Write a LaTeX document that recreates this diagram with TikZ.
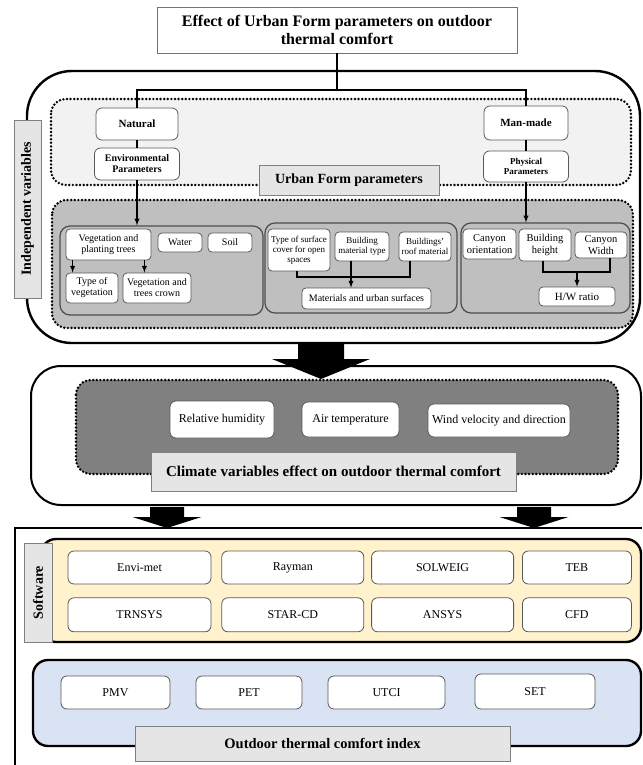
\documentclass[tikz,border=0pt]{standalone}
\usepackage{fontspec}
\setmainfont{Liberation Serif}
\usetikzlibrary{positioning}
\definecolor{swyellow}{HTML}{FFF2CC}
\definecolor{idxblue}{HTML}{DAE3F3}

\begin{document}
\begin{tikzpicture}[x=1pt, y=-1pt, >=latex,
                    wbox/.style={draw=black!65, fill=white, rounded corners=4pt, align=center, inner sep=1pt, line width=0.8pt},
                    swbox/.style={wbox, rounded corners=6pt, font=\fontsize{12}{14}\selectfont},
                    tagbox/.style={draw=black!50, fill=black!10, inner sep=1pt, font=\bfseries\fontsize{14}{16}\selectfont},
                    dotbox/.style={line width=2.7pt, dash pattern=on 0pt off 3.6pt, line cap=round, rounded corners=15pt},
                    panel/.style={draw=black, line width=2.4pt, rounded corners=15pt},
                    grpbox/.style={draw=black!70, fill=black!25, line width=1.2pt, rounded corners=10pt},
                    link/.style={line width=1.3pt}]
    \useasboundingbox (0,0) rectangle (642,765);
    % independent variables panel
    \draw[panel, rounded corners=45pt, fill=white] (27,71) rectangle (640,343);
    \draw[dotbox, fill=black!5] (51,99) rectangle (631,185);
    \draw[dotbox, fill=black!25] (52,200) rectangle (633,328);
    \node[tagbox, rotate=90, minimum width=178pt, minimum height=27pt] (indep) at (27.5,209) {Independent variables};
    \node[tagbox, minimum width=180pt, minimum height=30pt] (ufp) at (349,180) {Urban Form parameters};
    % title
    \node[draw=black!55, fill=white, align=center, minimum width=360pt, minimum height=46pt,
          font=\bfseries\fontsize{16}{18}\selectfont] (title) at (337,30)
          {Effect of Urban Form parameters on outdoor\\thermal comfort};
    % natural / man-made
    \node[wbox, rounded corners=6pt, minimum width=82pt, minimum height=32pt, font=\bfseries\fontsize{11}{12}\selectfont] (natural) at (137,124) {Natural};
    \node[wbox, rounded corners=6pt, minimum width=85pt, minimum height=32pt, font=\bfseries\fontsize{10}{11}\selectfont] (env) at (137,164) {Environmental\\Parameters};
    \node[wbox, rounded corners=6pt, minimum width=84pt, minimum height=34pt, font=\bfseries\fontsize{11}{12}\selectfont] (manmade) at (526,123) {Man-made};
    \node[wbox, rounded corners=6pt, minimum width=85pt, minimum height=31pt, font=\bfseries\fontsize{9}{10.5}\selectfont] (physical) at (526,166.5) {Physical\\Parameters};
    % groups
    \node[grpbox, minimum width=203pt, minimum height=89pt] (grpveg) at (161.5,270.5) {};
    \node[grpbox, minimum width=192pt, minimum height=90pt] (grpmat) at (361,268) {};
    \node[grpbox, minimum width=169pt, minimum height=90pt] (grpcan) at (545.5,268) {};
    % vegetation group
    \node[wbox, minimum width=85pt, minimum height=31pt, font=\fontsize{10}{11}\selectfont] (veg) at (108.5,244.5) {Vegetation and\\planting trees};
    \node[wbox, minimum width=44pt, minimum height=19pt, font=\fontsize{10}{11}\selectfont] (water) at (180,242.5) {Water};
    \node[wbox, minimum width=44pt, minimum height=19pt, font=\fontsize{10}{11}\selectfont] (soil) at (230,242.5) {Soil};
    \node[wbox, minimum width=52pt, minimum height=30pt, font=\fontsize{10}{11}\selectfont] (typeveg) at (92,288) {Type of\\vegetation};
    \node[wbox, minimum width=68pt, minimum height=30pt, font=\fontsize{10}{11}\selectfont] (crown) at (157,288) {Vegetation and\\trees crown};
    % materials group
    \node[wbox, minimum width=62pt, minimum height=42pt, font=\fontsize{9}{10}\selectfont] (surf) at (299,250) {Type of surface\\cover for open\\spaces};
    \node[wbox, minimum width=54pt, minimum height=29pt, font=\fontsize{9}{10.5}\selectfont] (bmat) at (362,246.5) {Building\\material type};
    \node[wbox, minimum width=52pt, minimum height=29pt, font=\fontsize{9}{10.5}\selectfont] (roof) at (425,246.5) {Buildings'\\roof material};
    \node[wbox, minimum width=129pt, minimum height=21pt, font=\fontsize{10}{11}\selectfont] (mats) at (366.5,298.5) {Materials and urban surfaces};
    % canyon group
    \node[wbox, minimum width=53pt, minimum height=30pt, font=\fontsize{10.5}{11.5}\selectfont] (orient) at (489.5,244) {Canyon\\orientation};
    \node[wbox, minimum width=52pt, minimum height=32pt, font=\fontsize{10.5}{11.5}\selectfont] (bheight) at (545,245) {Building\\height};
    \node[wbox, minimum width=52pt, minimum height=26pt, font=\fontsize{10.5}{11.5}\selectfont] (cwidth) at (601,245) {Canyon\\Width};
    \node[wbox, minimum width=76pt, minimum height=19pt, font=\fontsize{11}{12}\selectfont] (hw) at (577,296.5) {H/W ratio};
    % lines
    \coordinate (tj) at (337,90);
    \coordinate (jm) at (351,277);
    \coordinate (jc) at (577,272);
    \draw[link] (title.south) -- (tj);
    \draw[link] (natural.north) |- (tj) -| (manmade.north);
    \draw[link] (natural) -- (env);
    \draw[link] (manmade) -- (physical);
    \draw[link,->] (env.south) -- (env.south |- grpveg.north);
    \draw[link,->] (physical.south) -- (physical.south |- grpcan.north);
    \draw[link,->] ([xshift=7pt]veg.south west) -- ([xshift=7pt]veg.south west |- typeveg.north);
    \draw[link,->] ([xshift=-7pt]veg.south east) -- ([xshift=-7pt]veg.south east |- crown.north);
    \draw[link] ([xshift=-2pt]surf.south) |- (jm) -| ([xshift=-15pt]roof.south);
    \draw[link,->] ([xshift=-11pt]bmat.south) -- ([xshift=-11pt]bmat.south |- mats.north);
    \draw[link] ([xshift=-2pt]bheight.south) |- (jc) -| ([xshift=9pt]cwidth.south);
    \draw[link,->] (jc) -- (hw.north);
    % arrow to climate
    \coordinate (a1) at (321,342);
    \fill (a1) ++(-23,0) -- ++(46,0) -- ++(0,17) -- ++(26,0) -- ++(-49,20) -- ++(-49,-20) -- ++(26,0) -- cycle;
    % climate panel
    \draw[draw=black, line width=2pt, rounded corners=30pt] (31,366) rectangle (641,505);
    \draw[dotbox, fill=black!50] (76,380) rectangle (618,474);
    \node[swbox, minimum width=104pt, minimum height=37pt] (rh) at (222,419.5) {Relative humidity};
    \node[swbox, minimum width=97pt, minimum height=35pt] (airt) at (350.5,419.5) {Air temperature};
    \node[swbox, minimum width=142pt, minimum height=33pt] (wind) at (499,420.5) {Wind velocity and direction};
    \node[tagbox, minimum width=365pt, minimum height=39pt, font=\bfseries\fontsize{15}{17}\selectfont] (climate) at (333.5,471.5) {Climate variables effect on outdoor thermal comfort};
    % arrows to software
    \foreach \ax in {167,534}
        \fill (\ax,507) ++(-17,0) -- ++(34,0) -- ++(0,10) -- ++(17.5,0) -- ++(-34.5,11) -- ++(-34.5,-11) -- ++(17.5,0) -- cycle;
    \draw[line width=1.2pt] (642,528) -- (15,528) -- (15,765);
    % software
    \draw[panel, fill=swyellow] (41,539) rectangle (641,642);
    \node[tagbox, rotate=90, minimum width=99pt, minimum height=28pt] (soft) at (38,592.5) {Software};
    \node[swbox, minimum width=143pt, minimum height=33pt] (envi) at (139.5,567.5) {Envi-met};
    \node[swbox, minimum width=142pt, minimum height=33pt, right=10pt of envi] (rayman) {Rayman};
    \node[swbox, minimum width=142pt, minimum height=33pt, right=7pt of rayman] (solweig) {SOLWEIG};
    \node[swbox, minimum width=109pt, minimum height=33pt, right=8pt of solweig] (teb) {TEB};
    \node[swbox, minimum width=143pt, minimum height=34pt, below=13pt of envi] (trnsys) {TRNSYS};
    \node[swbox, minimum width=142pt, minimum height=34pt, right=10pt of trnsys] (starcd) {STAR-CD};
    \node[swbox, minimum width=142pt, minimum height=34pt, right=7pt of starcd] (ansys) {ANSYS};
    \node[swbox, minimum width=109pt, minimum height=34pt, right=8pt of ansys] (cfd) {CFD};
    % comfort index
    \draw[panel, fill=idxblue] (33,660) rectangle (641,746);
    \node[swbox, minimum width=109pt, minimum height=33pt] (pmv) at (115.5,692.5) {PMV};
    \node[swbox, minimum width=106pt, minimum height=33pt] (pet) at (249,692.5) {PET};
    \node[swbox, minimum width=117pt, minimum height=33pt] (utci) at (386.5,692.5) {UTCI};
    \node[swbox, minimum width=120pt, minimum height=35pt] (set) at (535,691.5) {SET};
    \node[tagbox, minimum width=375pt, minimum height=35pt, font=\bfseries\fontsize{14.5}{16}\selectfont] (index) at (322.5,743.5) {Outdoor thermal comfort index};
\end{tikzpicture}
\end{document}
